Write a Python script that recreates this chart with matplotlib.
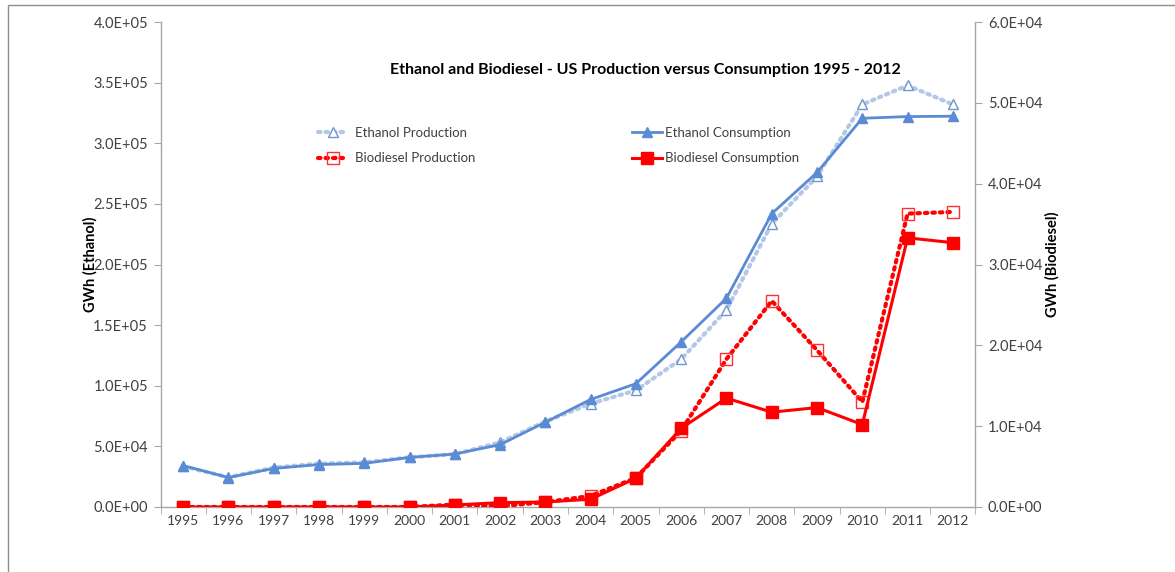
import matplotlib
matplotlib.use("Agg")
import matplotlib.pyplot as plt
from matplotlib.patches import Rectangle
from matplotlib.ticker import FuncFormatter, MultipleLocator, FixedLocator

plt.rcParams['font.family'] = ['Lato', 'DejaVu Sans']

years = ["1995", "1996", "1997", "1998", "1999", "2000", "2001", "2002", "2003",
         "2004", "2005", "2006", "2007", "2008", "2009", "2010", "2011", "2012"]
ethanol_production = [33500, 24500, 32500, 35800, 36800, 41000, 43500, 53300, 70500,
                      85200, 96200, 121900, 162500, 233600, 272600, 332000, 347700, 332000]
ethanol_consumption = [34200, 24300, 31800, 35000, 36000, 40900, 43700, 51400, 69900,
                       88700, 101700, 136200, 172200, 241900, 275900, 320600, 322000, 322300]
biodiesel_production = [0, 0, 0, 0, 0, 0, 300, 100, 600,
                        1370, 3600, 9450, 18300, 25500, 19400, 13000, 36300, 36500]
biodiesel_consumption = [0, 0, 0, 0, 0, 0, 250, 540, 620,
                         960, 3570, 9740, 13470, 11730, 12300, 10200, 33300, 32700]

W, H = 1175, 572
fig = plt.figure(figsize=(W / 100, H / 100), dpi=100)

# outer chart border (cropped on right and bottom)
fig.patches.append(Rectangle((8 / W, -0.1), 2, 1.1 - 5 / H, transform=fig.transFigure,
                             fill=False, edgecolor='#8c8c8c', linewidth=1.0, zorder=0))

ax = fig.add_axes([160.5 / W, 1 - 507 / H, 815 / W, 485 / H])
ax2 = ax.twinx()

x = list(range(len(years)))

c_eprod_line = '#b4c8e6'
c_eprod_mk = '#6f95cf'
c_econs = '#5a8bd4'
c_red = '#ff0000'

l1, = ax.plot(x, ethanol_production, linestyle=(0, (0.6, 1.2)), dash_capstyle='round',
              color=c_eprod_line, linewidth=3.0, marker='^', markersize=7.5,
              markerfacecolor='white', markeredgecolor=c_eprod_mk, markeredgewidth=1.0,
              label='Ethanol Production', zorder=3)
l2, = ax.plot(x, ethanol_consumption, linestyle='-', color=c_econs, linewidth=2.0,
              marker='^', markersize=7.5, markerfacecolor=c_econs, markeredgecolor=c_econs,
              label='Ethanol Consumption', zorder=4)
l3, = ax2.plot(x, biodiesel_production, linestyle=(0, (0.6, 1.2)), dash_capstyle='round',
               color=c_red, linewidth=3.0, marker='s', markersize=8.5,
               markerfacecolor='none', markeredgecolor='#ff3030', markeredgewidth=1.0,
               label='Biodiesel Production', zorder=3)
l4, = ax2.plot(x, biodiesel_consumption, linestyle='-', color=c_red, linewidth=2.2,
               marker='s', markersize=8.5, markerfacecolor=c_red, markeredgecolor=c_red,
               label='Biodiesel Consumption', zorder=4)

ax.set_xlim(-0.5, len(years) - 0.5)
ax.set_ylim(0, 4.0e5)
ax2.set_ylim(0, 6.0e4)
ax.yaxis.set_major_locator(MultipleLocator(5.0e4))
ax2.yaxis.set_major_locator(MultipleLocator(1.0e4))

def sci(v, pos):
    return "%.1E" % v

ax.yaxis.set_major_formatter(FuncFormatter(sci))
ax2.yaxis.set_major_formatter(FuncFormatter(sci))

ax.set_xticks(x)
ax.set_xticklabels(years)
ax.xaxis.set_minor_locator(FixedLocator([i - 0.5 for i in range(len(years) + 1)]))

spine_c = '#a6a6a6'
txt_c = '#404040'
for a in (ax, ax2):
    for s in a.spines.values():
        s.set_color(spine_c)
        s.set_linewidth(1.0)
    a.spines['top'].set_visible(False)
ax.spines['right'].set_visible(False)
ax2.spines['left'].set_visible(False)
ax2.spines['bottom'].set_visible(False)

ax.tick_params(axis='x', which='major', length=0, pad=6, labelsize=10, labelcolor=txt_c)
ax.tick_params(axis='x', which='minor', length=5, color=spine_c, direction='out')
ax.tick_params(axis='y', length=5, color=spine_c, direction='out', labelsize=10.5,
               labelcolor=txt_c, pad=4)
ax2.tick_params(axis='y', length=5, color=spine_c, direction='out', labelsize=10.5,
                labelcolor=txt_c, pad=4)

ax.set_ylabel('GWh (Ethanol)', fontsize=10.5, fontweight='bold', color='black')
ax2.set_ylabel('GWh (Biodiesel)', fontsize=10.5, fontweight='bold', color='black')
ax.yaxis.label.set_va('center')
ax2.yaxis.label.set_va('center')
ax.yaxis.set_label_coords((90 - 160.5) / 815, 0.5)
ax2.yaxis.set_label_coords((1052 - 160.5) / 815, 0.5)

fig.text(645 / W, 1 - 70 / H, 'Ethanol and Biodiesel - US Production versus Consumption 1995 - 2012',
         ha='center', va='center', fontsize=11.5, fontweight='bold', color='black')

leg_kw = dict(frameon=False, fontsize=9.5, labelspacing=1.0, handlelength=2.3,
              borderpad=0, borderaxespad=0, loc='upper left',
              bbox_transform=fig.transFigure, labelcolor=txt_c)
leg1 = ax2.legend([l1, l3], ['Ethanol Production', 'Biodiesel Production'],
                  bbox_to_anchor=(318 / W, 1 - 127 / H), handletextpad=0.5, **leg_kw)
ax2.add_artist(leg1)
leg2 = ax2.legend([l2, l4], ['Ethanol Consumption', 'Biodiesel Consumption'],
                  bbox_to_anchor=(632 / W, 1 - 127 / H), handletextpad=0.2, **leg_kw)

fig.savefig('out.png', dpi=100)
